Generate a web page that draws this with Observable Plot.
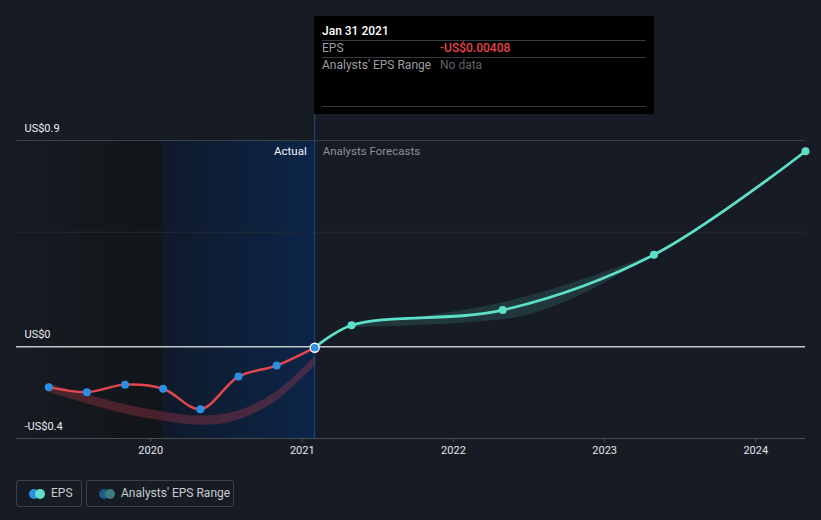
<!DOCTYPE html>
<html>
<head>
<meta charset="utf-8">
<script src="https://cdn.jsdelivr.net/npm/d3@7"></script>
<script src="https://cdn.jsdelivr.net/npm/@observablehq/plot@0.6"></script>
<style>
  html, body { margin:0; padding:0; background:#161b24; width:821px; height:520px; overflow:hidden; font-family: Roboto, "Noto Sans", sans-serif; }
  #wrap { position:relative; width:821px; height:520px; }
  #chart { position:absolute; left:0; top:0; }
  .tip { position:absolute; left:314px; top:16px; width:340px; height:98px; background:#000; }
  .tip .t { position:absolute; left:8px; font-size:12px; line-height:14px; }
  .tip .sep { position:absolute; left:8px; width:324px; height:1px; background:#3a3b3e; }
  .legend { position:absolute; top:480px; height:25px; border:1px solid #3b404a; border-radius:3px; box-sizing:content-box; font-size:12px; color:#c9ccd1; }
  .legend .c { position:absolute; top:8px; width:10px; height:10px; border-radius:50%; }
  .legend .lab { position:absolute; top:5px; line-height:15px; }
</style>
</head>
<body>
<div id="wrap">
  <div id="chart"></div>
  <div class="tip">
    <div class="t" style="top:8px;color:#fff;font-weight:500;">Jan 31 2021</div>
    <div class="sep" style="top:24px;"></div>
    <div class="t" style="top:25px;color:#9a9ea5;">EPS</div>
    <div class="t" style="top:25px;left:126px;color:#e8424a;font-weight:500;">-US$0.00408</div>
    <div class="sep" style="top:41px;"></div>
    <div class="t" style="top:42px;color:#9a9ea5;">Analysts' EPS Range</div>
    <div class="t" style="top:42px;left:126px;color:#5f636a;">No data</div>
    <div class="sep" style="top:90px;"></div>
  </div>
  <div class="legend" style="left:16px;width:64px;">
    <div class="c" style="left:12px;background:#2b8fe6;"></div>
    <div class="c" style="left:18px;background:#5ee0c8;"></div>
    <div class="lab" style="left:34px;">EPS</div>
  </div>
  <div class="legend" style="left:86px;width:146px;">
    <div class="c" style="left:12px;background:#1f5a86;"></div>
    <div class="c" style="left:18px;background:#3e7d7f;"></div>
    <div class="lab" style="left:34px;">Analysts' EPS Range</div>
  </div>
</div>
<script>
// ---- data ----
const actualDates = ["2019-04-30","2019-07-31","2019-10-31","2020-01-31","2020-04-30","2020-07-31","2020-10-31","2021-01-31"];
const actualEps = [-0.176, -0.198, -0.165, -0.183, -0.272, -0.130, -0.082, -0.00408];

const pastRangeLow  = [-0.198, -0.248, -0.293, -0.324, -0.342, -0.320, -0.236, -0.084];
const pastRangeHigh = [-0.162, -0.208, -0.253, -0.284, -0.302, -0.280, -0.196, -0.044];

const forecastDates = ["2021-01-31","2021-04-30","2022-04-30","2023-04-30","2024-04-30"];
const forecastEps = [-0.00408, 0.094, 0.160, 0.401, 0.853];

const rangeDates = ["2021-04-30","2022-04-30","2023-04-30"];
const rangeLow  = [0.084, 0.118, 0.401];
const rangeHigh = [0.100, 0.192, 0.401];

const yTickValues = [0.9, 0, -0.4];
const yTickLabels = ["US$0.9", "US$0", "-US$0.4"];
const xTickYears = ["2020-01-01","2021-01-01","2022-01-01","2023-01-01","2024-01-01"];

const domainStart = "2019-02-11";
const domainEnd = "2024-04-30";
const pastStart = "2020-01-31";
const nowDate = "2021-01-31";

// ---- build ----
const D = s => new Date(s + "T00:00:00Z");
const actual = actualDates.map((d, i) => ({date: D(d), eps: actualEps[i]}));
const pastRange = actualDates.map((d, i) => ({date: D(d), low: pastRangeLow[i], high: pastRangeHigh[i]}));
const forecast = forecastDates.map((d, i) => ({date: D(d), eps: forecastEps[i]}));
const fRange = rangeDates.map((d, i) => ({date: D(d), low: rangeLow[i], high: rangeHigh[i]}));
const yTicks = yTickValues.map((v, i) => ({v, label: yTickLabels[i]}));
const yTop = 1.0133;

const chart = Plot.plot({
  width: 821, height: 470,
  marginLeft: 16, marginRight: 16, marginTop: 114, marginBottom: 32,
  style: {background: "transparent", color: "#e4e6ea", fontFamily: "Roboto, sans-serif", fontSize: "11px"},
  x: {type: "utc", domain: [D(domainStart), D(domainEnd)], label: null},
  y: {domain: [-0.4, yTop], axis: null},
  marks: [
    Plot.rect([{x1: D(domainStart), x2: D(pastStart)}], {x1: "x1", x2: "x2", y1: -0.4, y2: 0.9, fill: "url(#gDark)"}),
    Plot.rect([{x1: D(pastStart), x2: D(nowDate)}], {x1: "x1", x2: "x2", y1: -0.4, y2: 0.9, fill: "url(#gBlue)"}),
    Plot.ruleY([0.9], {stroke: "#3c4049", strokeWidth: 1}),
    Plot.ruleY([0.5], {stroke: "#262a32", strokeWidth: 1}),
    Plot.ruleY([-0.4], {stroke: "#474c55", strokeWidth: 1}),
    Plot.ruleX([D(nowDate)], {y1: -0.4, y2: yTop, stroke: "#1e4c86", strokeWidth: 1}),
    Plot.axisX({ticks: xTickYears.map(D), tickFormat: d3.utcFormat("%Y"), tickSize: 4, tickPadding: 4, stroke: "#474c55", fill: "#e4e6ea", fontSize: 11}),
    Plot.ruleY([0], {stroke: "#c4c7cc", strokeWidth: 1.4}),
    Plot.text(yTicks, {x: D(domainStart), y: "v", text: "label", dx: 8, dy: -12, textAnchor: "start", fill: "#eceef0", fontSize: 11}),
    Plot.text(["Actual"], {x: D(nowDate), y: 0.9, dx: -8, dy: 11, textAnchor: "end", fill: "#f2f3f5", fontSize: 11.5}),
    Plot.text(["Analysts Forecasts"], {x: D(nowDate), y: 0.9, dx: 8, dy: 11, textAnchor: "start", fill: "#8b9099", fontSize: 11.5}),
    Plot.areaY(pastRange, {x: "date", y1: "low", y2: "high", fill: "#b23a4c", fillOpacity: 0.35, curve: "catmull-rom"}),
    Plot.areaY(fRange, {x: "date", y1: "low", y2: "high", fill: "#5ce0c8", fillOpacity: 0.15, curve: "monotone-x"}),
    Plot.line(actual, {x: "date", y: "eps", stroke: "#e2474e", strokeWidth: 2.5, curve: "catmull-rom"}),
    Plot.line(forecast, {x: "date", y: "eps", stroke: "#5ee0c8", strokeWidth: 2.8, curve: "catmull-rom"}),
    Plot.dot(actual.slice(0, -1), {x: "date", y: "eps", r: 4, fill: "#2b8fe6"}),
    Plot.dot(forecast.slice(1), {x: "date", y: "eps", r: 4, fill: "#5ee0c8"}),
    Plot.dot(actual.slice(-1), {x: "date", y: "eps", r: 4.5, fill: "#2b8fe6", stroke: "#ffffff", strokeWidth: 1.3})
  ]
});

const ns = "http://www.w3.org/2000/svg";
const defs = document.createElementNS(ns, "defs");
defs.innerHTML = `
  <linearGradient id="gDark" x1="0" x2="1" y1="0" y2="0">
    <stop offset="0" stop-color="#161b22"/>
    <stop offset="1" stop-color="#121519"/>
  </linearGradient>
  <linearGradient id="gBlue" x1="0" x2="1" y1="0" y2="0">
    <stop offset="0" stop-color="#0f1a2a"/>
    <stop offset="1" stop-color="#0c2548"/>
  </linearGradient>`;
chart.insertBefore(defs, chart.firstChild);
document.getElementById("chart").appendChild(chart);
</script>
</body>
</html>
